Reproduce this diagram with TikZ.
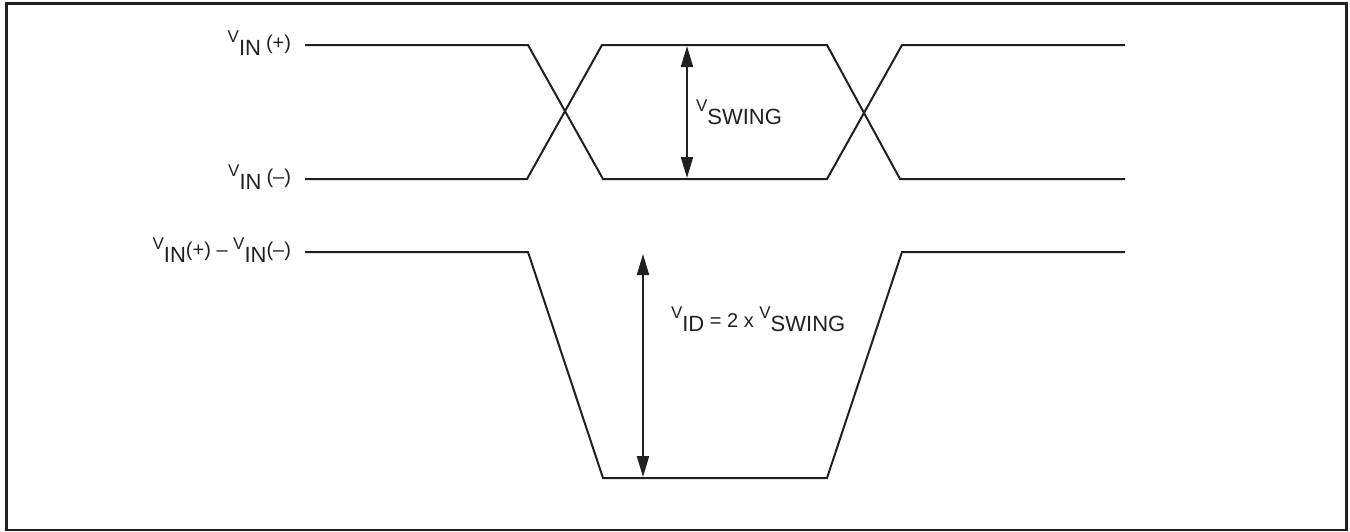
\documentclass[tikz,border=0pt]{standalone}
\usepackage{fontspec}
\setmainfont{Liberation Sans}
\usetikzlibrary{arrows.meta}
\definecolor{ink}{HTML}{231F20}
\newcommand\fs[1]{\fontsize{#1}{#1}\selectfont}
\newcommand\vsym{\raisebox{13pt}{\fs{17}V}}
\newcommand\parup[1]{\raisebox{6pt}{\fs{20}(#1)}}
\newcommand\subt[1]{{\fs{22}#1}}
\tikzset{
  x=1pt, y=-1pt,
  sig/.style={draw=ink, line width=2pt, line join=miter},
  frame/.style={draw=ink, line width=2.5pt},
  dim/.style={draw=ink, line width=2pt, {Triangle[length=21pt,width=12pt]}-{Triangle[length=21pt,width=12pt]}},
  lbl/.style={inner sep=0pt, outer sep=0pt, text=ink},
}
\begin{document}
\begin{tikzpicture}
\useasboundingbox (0,0) rectangle (1350,531);
\draw[frame] (6.5,3.5) rectangle (1346.5,530);

% waveforms
\draw[sig] (305,45) -- (528,45) -- (603,179) -- (827,179) -- (902,45) -- (1125,45);
\draw[sig] (305,179) -- (527,179) -- (602,45) -- (827,45) -- (900,179) -- (1125,179);
\draw[sig] (305,252) -- (528,252) -- (603,478) -- (827,478) -- (902,252) -- (1125,252);

% labels
\node[lbl, anchor=base east] (vinp) at (291,55) {\vsym\subt{IN}\hspace{5pt}\parup{+}};
\node[lbl, anchor=base east] (vinm) at (291,189) {\vsym\subt{IN}\hspace{5pt}\parup{--}};
\node[lbl, anchor=base east] (vdiff) at (291,262) {\vsym\subt{IN}\parup{+}\raisebox{6pt}{\fs{20}\ --\ }\vsym\subt{IN}\parup{--}};
\node[lbl, anchor=base west] (vswing) at (696,124) {\vsym\subt{SWING}};
\node[lbl, anchor=base west] (vid) at (671,331) {\vsym\subt{ID}\raisebox{4pt}{\fs{20}\ = 2 x\ }\vsym\subt{SWING}};

% dimension arrows
\coordinate (sa) at (687,46);
\coordinate (sb) at (687,178);
\coordinate (da) at (643,254);
\coordinate (db) at (643,477);
\draw[dim] (sa) -- (sb);
\draw[dim] (da) -- (db);
\end{tikzpicture}
\end{document}
